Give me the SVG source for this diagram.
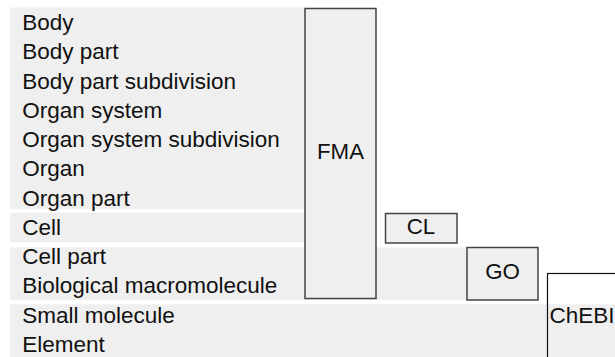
<svg xmlns="http://www.w3.org/2000/svg" width="615" height="357" viewBox="0 0 615 357">
  <style>
    .band { fill: #efefef; }
    .lbl { font-family: "Liberation Sans", Arial, sans-serif; font-size: 22.5px; fill: #111; }
    .onto { fill: #efefef; stroke: #444; stroke-width: 1.5; }
    .name { font-family: "Liberation Sans", Arial, sans-serif; font-size: 22.3px; fill: #111; text-anchor: middle; }
  </style>
  <rect width="615" height="357" fill="#ffffff"/>

  <!-- granularity levels -->
  <g id="level-anatomy">
    <rect class="band" x="10" y="7.5" width="366" height="201.5"/>
    <text class="lbl" x="22.2" y="30">Body</text>
    <text class="lbl" x="22.2" y="59.25">Body part</text>
    <text class="lbl" x="22.2" y="88.5">Body part subdivision</text>
    <text class="lbl" x="22.2" y="117.75">Organ system</text>
    <text class="lbl" x="22.2" y="147">Organ system subdivision</text>
    <text class="lbl" x="22.2" y="176.25">Organ</text>
    <text class="lbl" x="22.2" y="205.5">Organ part</text>
  </g>
  <g id="level-cell">
    <rect class="band" x="10" y="212.7" width="366" height="29.6"/>
    <text class="lbl" x="22.2" y="234.75">Cell</text>
  </g>
  <g id="level-subcellular">
    <rect class="band" x="10" y="247.3" width="457" height="52.7"/>
    <text class="lbl" x="22.2" y="264">Cell part</text>
    <text class="lbl" x="22.2" y="293.25">Biological macromolecule</text>
  </g>
  <g id="level-molecular">
    <rect class="band" x="10" y="304.3" width="605" height="53"/>
    <text class="lbl" x="22.2" y="322.5">Small molecule</text>
    <text class="lbl" x="22.2" y="351.75">Element</text>
  </g>

  <!-- ontologies -->
  <g id="fma">
    <rect class="onto" x="305" y="8.5" width="71" height="290"/>
    <text class="name" x="340.5" y="159.3">FMA</text>
  </g>
  <g id="cl">
    <rect class="onto" x="385.5" y="213.5" width="71.5" height="29.5" stroke="#333" stroke-width="1.2"/>
    <text class="name" x="421" y="234">CL</text>
  </g>
  <g id="go">
    <rect class="onto" x="467" y="247.5" width="71" height="52.5" stroke="#333" stroke-width="1.2"/>
    <text class="name" x="502.5" y="278.5">GO</text>
  </g>
  <g id="chebi">
    <rect x="547.5" y="273.5" width="100" height="100" fill="none" stroke="#111" stroke-width="1.2"/>
    <text class="lbl" x="549.5" y="323.3">ChEBI</text>
  </g>
</svg>
